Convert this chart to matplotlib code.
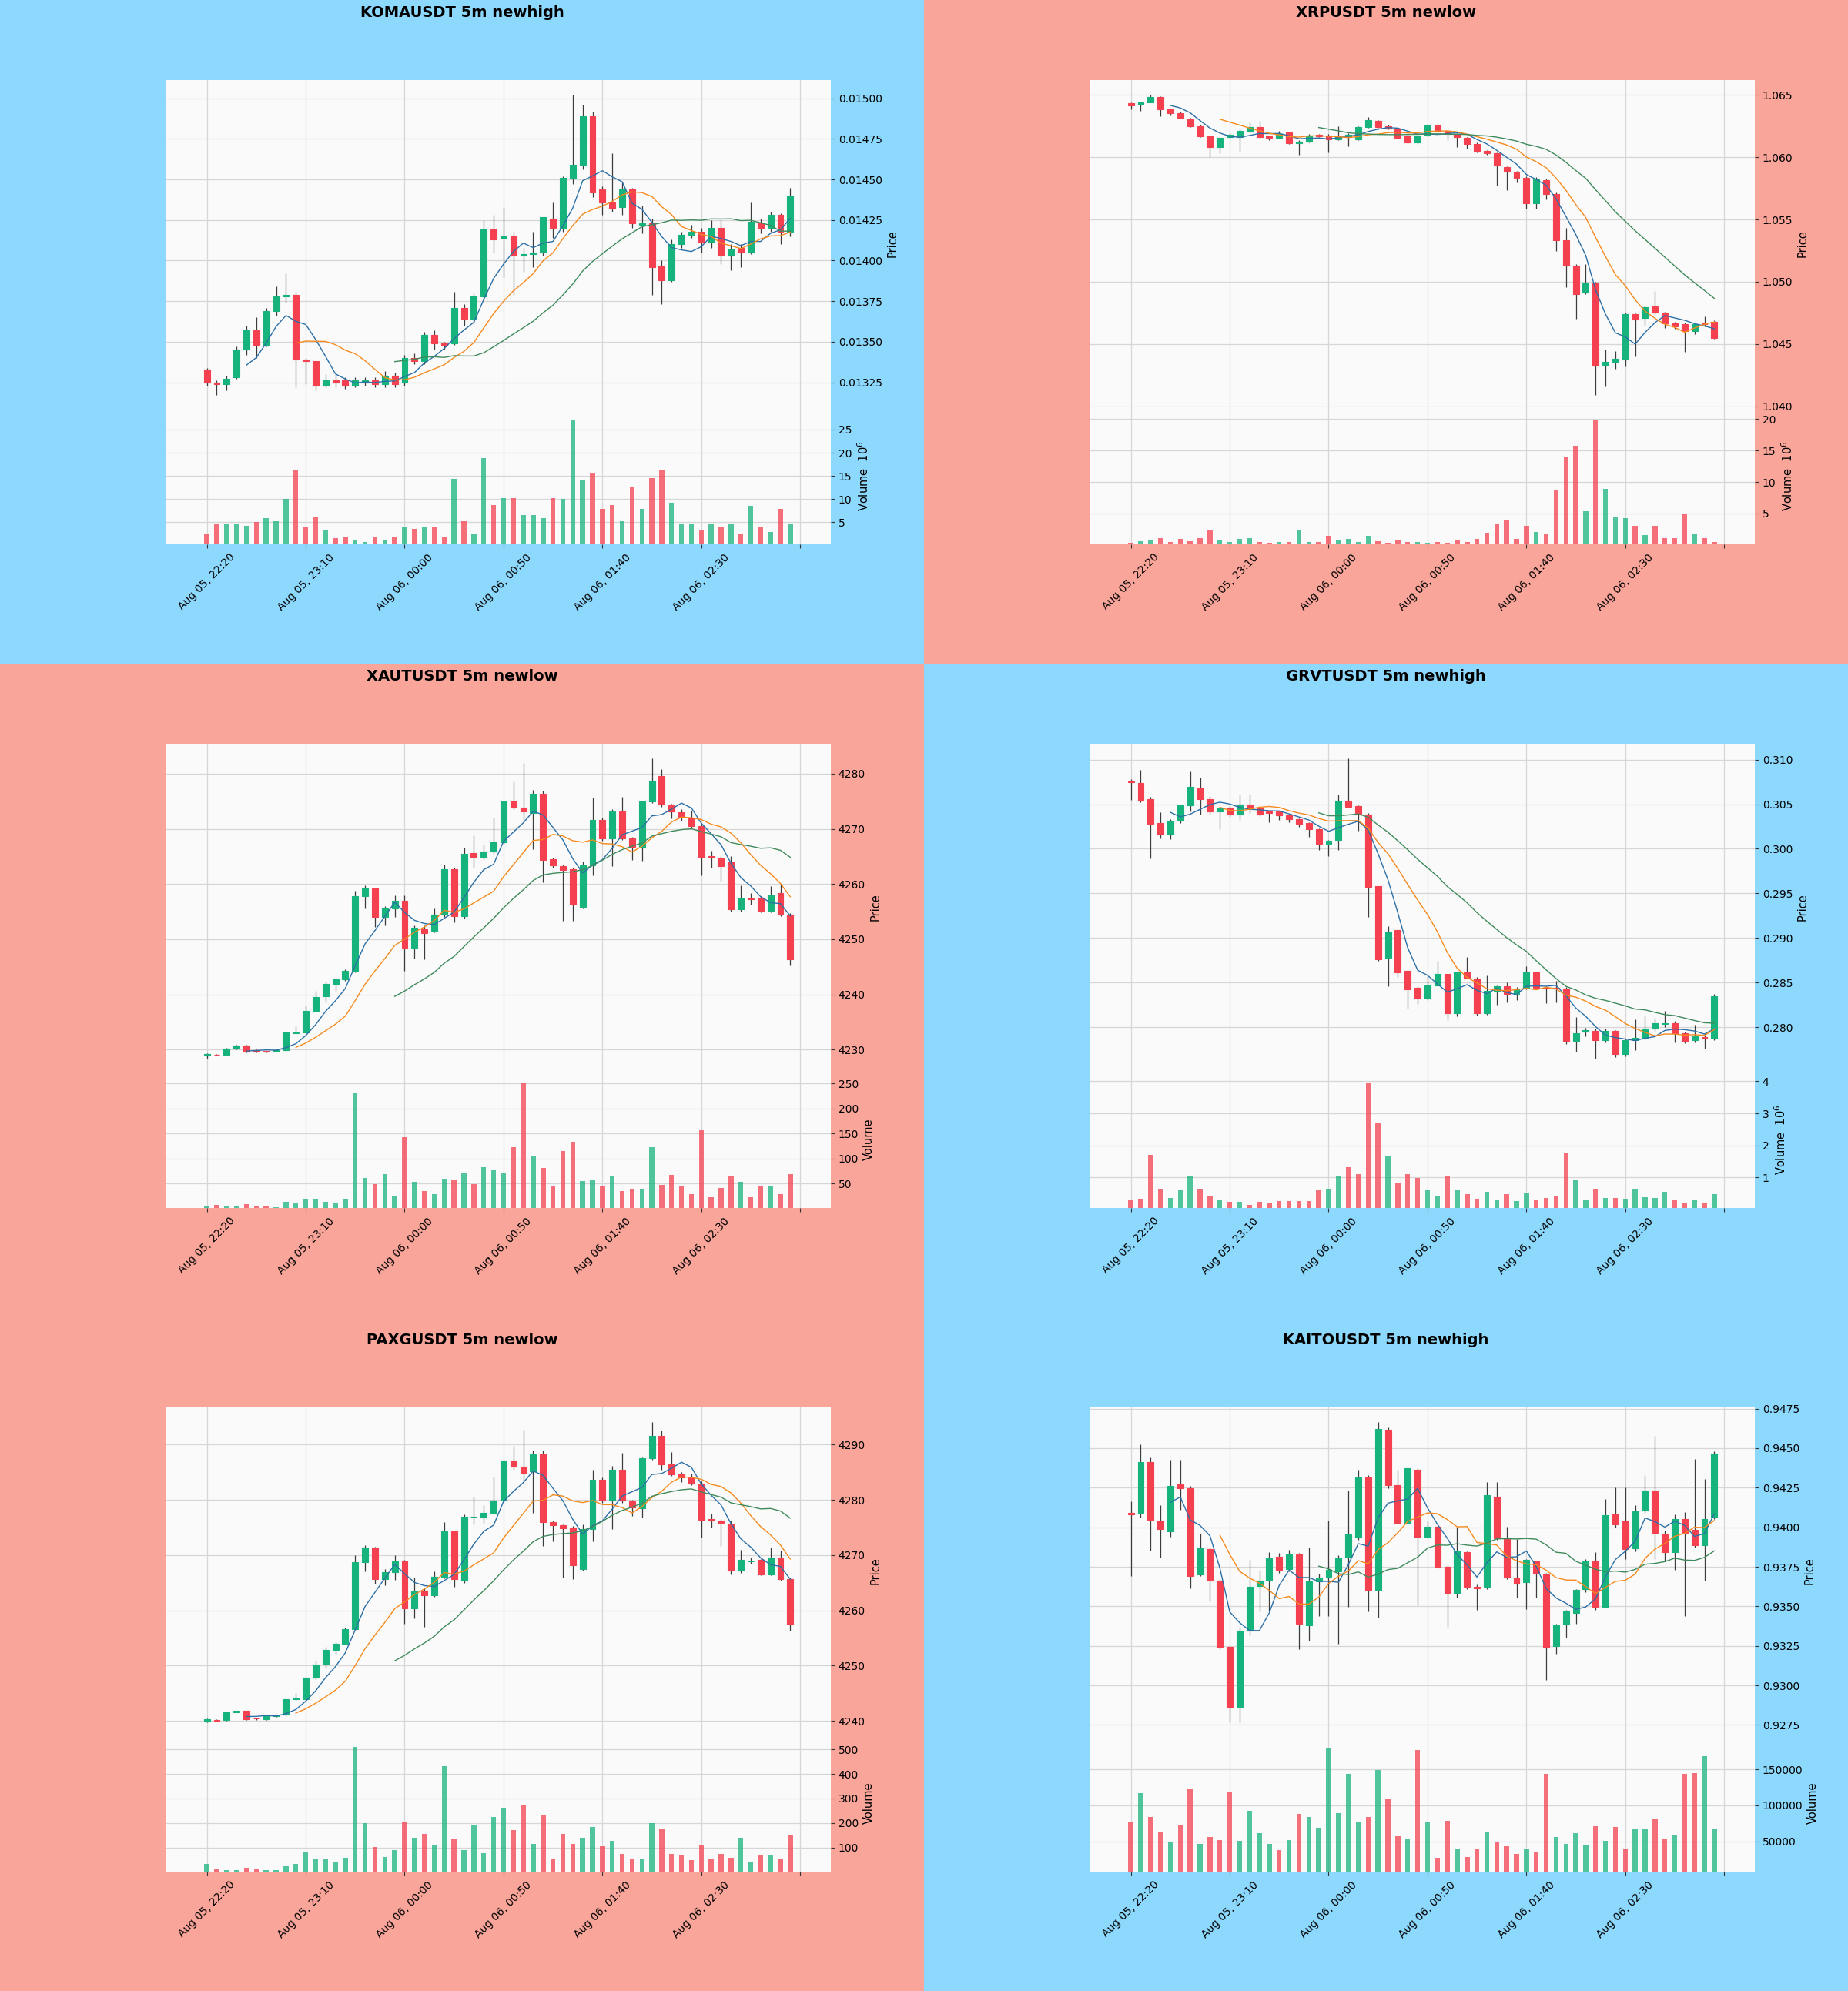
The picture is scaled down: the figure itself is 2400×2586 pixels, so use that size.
import numpy as np
import pandas as pd
import matplotlib
import matplotlib.pyplot as plt
from matplotlib.patches import Rectangle

matplotlib.use("Agg")

OUTPUT_FILE = "out.png"

# shared x axis: 60 five-minute candles
TICK_POS = [0, 10, 20, 30, 40, 50, 60]
TICK_LABELS = ["Aug 05, 22:20", "Aug 05, 23:10", "Aug 06, 00:00",
               "Aug 06, 00:50", "Aug 06, 01:40", "Aug 06, 02:30", ""]
MA_WINDOWS = [5, 10, 20]

# ---- KOMAUSDT ----
KOMA_OPEN = [0.01333, 0.01325, 0.01324, 0.01328, 0.01345, 0.01357, 0.01348, 0.01369, 0.01378, 0.01379,
             0.01339, 0.01338, 0.01323, 0.01326, 0.01326, 0.01323, 0.01325, 0.01326, 0.01324, 0.01329,
             0.01325, 0.01340, 0.01338, 0.01354, 0.01349, 0.01349, 0.01371, 0.01364, 0.01378, 0.01419,
             0.01414, 0.01415, 0.01403, 0.01404, 0.01405, 0.01426, 0.01420, 0.01451, 0.01459, 0.01489,
             0.01444, 0.01436, 0.01433, 0.01444, 0.01422, 0.01423, 0.01397, 0.01388, 0.01410, 0.01416,
             0.01418, 0.01411, 0.01420, 0.01403, 0.01408, 0.01405, 0.01423, 0.01420, 0.01428, 0.01418]
KOMA_HIGH = [0.01334, 0.01326, 0.01329, 0.01347, 0.01360, 0.01365, 0.01371, 0.01384, 0.01392, 0.01381,
             0.01340, 0.01338, 0.01330, 0.01330, 0.01328, 0.01328, 0.01328, 0.01328, 0.01332, 0.01331,
             0.01342, 0.01343, 0.01356, 0.01357, 0.01350, 0.01381, 0.01373, 0.01380, 0.01425, 0.01428,
             0.01433, 0.01418, 0.01408, 0.01418, 0.01427, 0.01436, 0.01452, 0.01502, 0.01496, 0.01492,
             0.01446, 0.01466, 0.01448, 0.01445, 0.01434, 0.01426, 0.01400, 0.01413, 0.01418, 0.01422,
             0.01420, 0.01425, 0.01425, 0.01410, 0.01410, 0.01436, 0.01426, 0.01430, 0.01429, 0.01445]
KOMA_LOW = [0.01323, 0.01317, 0.01320, 0.01327, 0.01342, 0.01340, 0.01347, 0.01366, 0.01374, 0.01322,
            0.01324, 0.01320, 0.01322, 0.01322, 0.01321, 0.01322, 0.01323, 0.01322, 0.01322, 0.01322,
            0.01323, 0.01336, 0.01336, 0.01345, 0.01345, 0.01348, 0.01360, 0.01362, 0.01376, 0.01405,
            0.01390, 0.01379, 0.01393, 0.01396, 0.01403, 0.01414, 0.01418, 0.01447, 0.01456, 0.01439,
            0.01428, 0.01430, 0.01428, 0.01420, 0.01417, 0.01379, 0.01373, 0.01387, 0.01408, 0.01414,
            0.01405, 0.01408, 0.01398, 0.01394, 0.01396, 0.01404, 0.01417, 0.01418, 0.01410, 0.01415]
KOMA_CLOSE = [0.01325, 0.01324, 0.01327, 0.01345, 0.01357, 0.01348, 0.01369, 0.01378, 0.01379, 0.01339,
              0.01338, 0.01323, 0.01326, 0.01325, 0.01323, 0.01326, 0.01326, 0.01324, 0.01329, 0.01324,
              0.01340, 0.01338, 0.01354, 0.01349, 0.01348, 0.01371, 0.01364, 0.01378, 0.01419, 0.01413,
              0.01415, 0.01403, 0.01404, 0.01405, 0.01427, 0.01420, 0.01451, 0.01459, 0.01489, 0.01442,
              0.01436, 0.01432, 0.01444, 0.01423, 0.01423, 0.01396, 0.01388, 0.01410, 0.01416, 0.01418,
              0.01411, 0.01420, 0.01403, 0.01407, 0.01405, 0.01424, 0.01420, 0.01428, 0.01418, 0.01440]
KOMA_VOLUME = [2.4, 4.8, 4.6, 4.6, 4.3, 5.0, 5.9, 5.3, 10.0, 16.2,
               4.1, 6.2, 3.4, 1.5, 1.8, 1.2, 0.8, 1.7, 1.2, 1.7,
               4.0, 3.6, 3.9, 4.1, 1.7, 14.3, 5.3, 2.6, 18.9, 8.7,
               10.2, 10.2, 6.6, 6.6, 5.9, 10.2, 10.0, 27.1, 14.0, 15.6,
               7.8, 8.7, 5.2, 12.7, 7.8, 14.5, 16.3, 9.2, 4.5, 4.8,
               3.2, 4.5, 4.1, 4.5, 2.4, 8.6, 4.1, 2.9, 7.9, 4.5]

# ---- XRPUSDT ----
XRP_OPEN = [1.06437, 1.06424, 1.06444, 1.06485, 1.06383, 1.06356, 1.06305, 1.06249, 1.06171, 1.06083,
            1.06164, 1.06164, 1.06209, 1.06242, 1.06169, 1.06159, 1.06200, 1.06115, 1.06127, 1.06180,
            1.06176, 1.06147, 1.06165, 1.06144, 1.06242, 1.06290, 1.06250, 1.06225, 1.06176, 1.06120,
            1.06176, 1.06256, 1.06210, 1.06188, 1.06159, 1.06110, 1.06054, 1.06030, 1.05920, 1.05884,
            1.05835, 1.05628, 1.05818, 1.05706, 1.05335, 1.05128, 1.04916, 1.04989, 1.04324, 1.04356,
            1.04375, 1.04738, 1.04707, 1.04804, 1.04750, 1.04665, 1.04658, 1.04604, 1.04670, 1.04680]
XRP_HIGH = [1.06444, 1.06450, 1.06500, 1.06490, 1.06390, 1.06370, 1.06320, 1.06260, 1.06175, 1.06165,
            1.06195, 1.06225, 1.06280, 1.06290, 1.06175, 1.06210, 1.06205, 1.06135, 1.06185, 1.06190,
            1.06185, 1.06250, 1.06195, 1.06250, 1.06322, 1.06300, 1.06260, 1.06235, 1.06185, 1.06180,
            1.06270, 1.06265, 1.06215, 1.06195, 1.06165, 1.06120, 1.06060, 1.06040, 1.05930, 1.05890,
            1.05845, 1.05840, 1.05830, 1.05720, 1.05433, 1.05140, 1.05140, 1.05000, 1.04458, 1.04446,
            1.04750, 1.04745, 1.04810, 1.04926, 1.04760, 1.04680, 1.04670, 1.04670, 1.04720, 1.04690]
XRP_LOW = [1.06388, 1.06371, 1.06440, 1.06329, 1.06336, 1.06310, 1.06245, 1.06160, 1.06005, 1.06030,
           1.06150, 1.06054, 1.06200, 1.06155, 1.06140, 1.06150, 1.06105, 1.06018, 1.06120, 1.06165,
           1.06037, 1.06140, 1.06090, 1.06135, 1.06235, 1.06235, 1.06225, 1.06150, 1.06115, 1.06110,
           1.06170, 1.06200, 1.06140, 1.06080, 1.06070, 1.06040, 1.06020, 1.05774, 1.05737, 1.05800,
           1.05590, 1.05590, 1.05660, 1.05250, 1.04958, 1.04702, 1.04900, 1.04088, 1.04161, 1.04300,
           1.04320, 1.04397, 1.04650, 1.04740, 1.04630, 1.04620, 1.04435, 1.04580, 1.04640, 1.04540]
XRP_CLOSE = [1.06417, 1.06444, 1.06485, 1.06383, 1.06356, 1.06315, 1.06249, 1.06171, 1.06083, 1.06159,
             1.06181, 1.06212, 1.06242, 1.06164, 1.06154, 1.06188, 1.06115, 1.06127, 1.06176, 1.06170,
             1.06147, 1.06169, 1.06180, 1.06242, 1.06298, 1.06242, 1.06232, 1.06159, 1.06120, 1.06176,
             1.06256, 1.06208, 1.06188, 1.06164, 1.06110, 1.06047, 1.06030, 1.05932, 1.05884, 1.05835,
             1.05628, 1.05828, 1.05706, 1.05335, 1.05128, 1.04901, 1.04989, 1.04324, 1.04356, 1.04380,
             1.04738, 1.04697, 1.04794, 1.04750, 1.04665, 1.04641, 1.04604, 1.04658, 1.04660, 1.04551]
XRP_VOLUME = [0.3, 0.6, 0.8, 1.1, 0.5, 0.9, 0.6, 1.1, 2.4, 0.8,
              0.5, 1.0, 1.1, 0.45, 0.3, 0.45, 0.45, 2.4, 0.45, 0.5,
              1.4, 0.8, 0.9, 0.5, 1.4, 0.6, 0.3, 0.8, 0.5, 0.5,
              0.3, 0.45, 0.3, 0.8, 0.5, 1.0, 1.9, 3.3, 3.9, 1.0,
              3.0, 2.0, 1.8, 8.7, 14.0, 15.8, 5.4, 19.9, 8.9, 4.5,
              4.3, 3.0, 1.5, 3.0, 1.1, 1.1, 4.9, 1.7, 1.1, 0.5]

# ---- XAUTUSDT ----
XAUT_OPEN = [4228.9, 4229.1, 4229.1, 4230.2, 4230.7, 4229.9, 4229.7, 4229.7, 4229.9, 4233.0,
             4233.1, 4237.0, 4239.7, 4241.9, 4242.7, 4244.2, 4257.8, 4259.2, 4254.0, 4255.5,
             4257.0, 4248.5, 4251.8, 4251.5, 4254.5, 4262.7, 4254.1, 4265.6, 4264.9, 4265.9,
             4267.6, 4274.9, 4273.8, 4272.9, 4276.3, 4264.5, 4263.3, 4262.7, 4255.9, 4263.4,
             4271.6, 4268.2, 4273.2, 4268.2, 4266.6, 4274.9, 4279.5, 4274.2, 4273.0, 4271.9,
             4270.5, 4265.0, 4264.7, 4264.0, 4255.4, 4257.4, 4257.5, 4255.1, 4258.3, 4254.5]
XAUT_HIGH = [4229.3, 4229.2, 4230.3, 4230.9, 4230.8, 4230.0, 4229.8, 4230.0, 4233.2, 4234.2,
             4238.0, 4240.6, 4242.3, 4243.0, 4244.6, 4258.8, 4259.8, 4259.3, 4256.0, 4257.9,
             4258.0, 4252.5, 4252.5, 4255.5, 4263.5, 4263.0, 4266.6, 4268.8, 4267.2, 4272.0,
             4275.0, 4278.6, 4281.9, 4277.0, 4276.9, 4264.8, 4263.5, 4263.0, 4264.1, 4275.6,
             4272.0, 4273.6, 4275.8, 4268.5, 4275.0, 4282.7, 4280.8, 4274.5, 4273.5, 4273.3,
             4271.0, 4266.0, 4265.0, 4265.1, 4259.8, 4258.3, 4257.8, 4259.6, 4260.0, 4254.7]
XAUT_LOW = [4228.3, 4228.9, 4229.0, 4230.1, 4229.5, 4229.5, 4229.5, 4229.6, 4229.8, 4232.9,
            4232.9, 4236.8, 4238.5, 4240.6, 4242.5, 4244.0, 4255.5, 4252.2, 4252.5, 4254.0,
            4244.3, 4246.5, 4246.4, 4251.2, 4254.0, 4253.1, 4253.8, 4262.9, 4264.5, 4265.5,
            4267.3, 4273.5, 4271.5, 4266.3, 4260.3, 4263.0, 4253.4, 4253.4, 4255.5, 4261.6,
            4267.8, 4263.2, 4268.0, 4264.3, 4264.2, 4274.7, 4274.0, 4271.9, 4271.5, 4270.2,
            4261.6, 4263.0, 4260.6, 4255.0, 4255.0, 4256.3, 4254.8, 4254.8, 4254.2, 4245.3]
XAUT_CLOSE = [4229.2, 4229.0, 4230.2, 4230.7, 4229.6, 4229.6, 4229.6, 4229.9, 4233.1, 4233.1,
              4237.0, 4239.5, 4241.9, 4242.7, 4244.2, 4257.8, 4259.2, 4254.0, 4255.5, 4257.0,
              4248.5, 4252.1, 4251.1, 4254.5, 4262.7, 4254.1, 4265.4, 4264.9, 4265.9, 4267.6,
              4274.9, 4273.8, 4273.2, 4276.4, 4264.4, 4263.4, 4262.6, 4256.2, 4263.4, 4271.6,
              4268.2, 4273.2, 4268.2, 4266.7, 4274.9, 4278.7, 4274.4, 4273.2, 4272.1, 4270.5,
              4264.9, 4264.8, 4263.3, 4255.4, 4257.4, 4257.3, 4255.1, 4257.9, 4254.5, 4246.3]
XAUT_VOLUME = [4, 7.5, 5.6, 5.6, 8.8, 5.6, 4.4, 2.5, 13.8, 10.6,
               18.8, 18.8, 12.5, 11.9, 18.8, 231, 60.6, 48, 68.8, 26,
               143, 52.5, 34, 29, 58.8, 56, 72, 48, 82.5, 78,
               72, 123, 250, 105.6, 80.6, 46, 115, 134, 54, 57.5,
               46, 65.6, 34, 38.8, 38.8, 122, 47, 67, 44, 28,
               156, 23, 40.6, 65.6, 52.5, 23, 44, 45, 28, 68]

# ---- GRVTUSDT ----
GRVT_OPEN = [0.30755, 0.30738, 0.30557, 0.30291, 0.30158, 0.30318, 0.30489, 0.30676, 0.30557, 0.30420,
             0.30465, 0.30387, 0.30489, 0.30465, 0.30420, 0.30420, 0.30376, 0.30329, 0.30291, 0.30223,
             0.30056, 0.30100, 0.30540, 0.30479, 0.30387, 0.29579, 0.28775, 0.29092, 0.28631, 0.28444,
             0.28318, 0.28468, 0.28597, 0.28154, 0.28614, 0.28546, 0.28154, 0.28410, 0.28454, 0.28376,
             0.28434, 0.28614, 0.28444, 0.28440, 0.28434, 0.27848, 0.27950, 0.27957, 0.27854, 0.27957,
             0.27701, 0.27850, 0.27881, 0.27981, 0.28035, 0.28045, 0.27933, 0.27854, 0.27889, 0.27875]
GRVT_HIGH = [0.30778, 0.30888, 0.30580, 0.30410, 0.30330, 0.30500, 0.30864, 0.30795, 0.30590, 0.30470,
             0.30480, 0.30608, 0.30608, 0.30470, 0.30430, 0.30430, 0.30390, 0.30340, 0.30300, 0.30230,
             0.30100, 0.30608, 0.31010, 0.30490, 0.30400, 0.29580, 0.29130, 0.29100, 0.28640, 0.28460,
             0.28570, 0.28740, 0.28600, 0.28620, 0.28785, 0.28560, 0.28580, 0.28470, 0.28500, 0.28450,
             0.28680, 0.28620, 0.28460, 0.28520, 0.28450, 0.28110, 0.27990, 0.27980, 0.27980, 0.27970,
             0.27870, 0.28090, 0.28120, 0.28100, 0.28180, 0.28070, 0.27950, 0.28030, 0.27930, 0.28376]
GRVT_LOW = [0.30547, 0.30520, 0.29892, 0.30120, 0.30104, 0.30290, 0.30420, 0.30380, 0.30380, 0.30216,
            0.30360, 0.30320, 0.30400, 0.30370, 0.30300, 0.30320, 0.30300, 0.30250, 0.30130, 0.29990,
            0.29920, 0.29990, 0.30470, 0.30200, 0.29238, 0.28740, 0.28461, 0.28560, 0.28210, 0.28257,
            0.28300, 0.28460, 0.28079, 0.28120, 0.28600, 0.28130, 0.28140, 0.28250, 0.28280, 0.28300,
            0.28420, 0.28420, 0.28270, 0.28280, 0.27810, 0.27728, 0.27900, 0.27643, 0.27830, 0.27660,
            0.27670, 0.27740, 0.27860, 0.27960, 0.28000, 0.27830, 0.27820, 0.27830, 0.27760, 0.27850]
GRVT_CLOSE = [0.30745, 0.30540, 0.30284, 0.30158, 0.30318, 0.30489, 0.30693, 0.30557, 0.30420, 0.30455,
              0.30387, 0.30500, 0.30455, 0.30387, 0.30404, 0.30376, 0.30335, 0.30284, 0.30216, 0.30056,
              0.30090, 0.30540, 0.30472, 0.30387, 0.29569, 0.28761, 0.29075, 0.28614, 0.28427, 0.28318,
              0.28468, 0.28597, 0.28154, 0.28614, 0.28546, 0.28154, 0.28410, 0.28454, 0.28376, 0.28434,
              0.28614, 0.28434, 0.28434, 0.28430, 0.27841, 0.27933, 0.27967, 0.27854, 0.27957, 0.27701,
              0.27854, 0.27881, 0.27984, 0.28045, 0.28048, 0.27933, 0.27848, 0.27909, 0.27875, 0.28342]
GRVT_VOLUME = [0.28, 0.33, 1.70, 0.65, 0.36, 0.63, 1.04, 0.65, 0.40, 0.31,
               0.23, 0.23, 0.14, 0.23, 0.22, 0.26, 0.26, 0.26, 0.26, 0.60,
               0.65, 1.04, 1.31, 1.09, 3.93, 2.71, 1.67, 0.84, 1.11, 0.97,
               0.60, 0.43, 1.02, 0.63, 0.48, 0.33, 0.55, 0.28, 0.48, 0.25,
               0.51, 0.31, 0.35, 0.43, 1.77, 0.90, 0.28, 0.65, 0.36, 0.36,
               0.33, 0.65, 0.38, 0.35, 0.55, 0.28, 0.22, 0.31, 0.22, 0.48]

# ---- PAXGUSDT ----
PAXG_OPEN = [4239.9, 4240.2, 4240.2, 4241.6, 4241.8, 4240.5, 4240.3, 4240.9, 4241.1, 4244.0,
             4244.0, 4247.9, 4250.4, 4252.9, 4254.0, 4256.6, 4268.7, 4271.4, 4265.6, 4266.9,
             4268.9, 4260.3, 4263.6, 4262.8, 4266.1, 4274.3, 4265.4, 4276.9, 4276.8, 4277.6,
             4279.9, 4287.1, 4286.0, 4285.1, 4288.2, 4275.9, 4275.4, 4275.0, 4267.5, 4274.7,
             4283.6, 4279.8, 4285.5, 4279.7, 4278.5, 4287.5, 4291.5, 4286.4, 4284.6, 4284.0,
             4282.9, 4276.5, 4276.2, 4275.7, 4267.2, 4268.8, 4269.1, 4266.5, 4269.6, 4265.7]
PAXG_HIGH = [4240.4, 4240.3, 4241.6, 4241.9, 4241.9, 4240.6, 4241.0, 4241.1, 4244.1, 4245.1,
             4248.0, 4250.9, 4253.4, 4254.3, 4256.9, 4270.0, 4271.8, 4271.5, 4267.5, 4270.0,
             4269.2, 4266.0, 4264.0, 4267.0, 4276.0, 4274.5, 4277.3, 4280.6, 4279.0, 4284.2,
             4287.3, 4289.7, 4292.7, 4288.9, 4288.9, 4276.2, 4275.6, 4275.2, 4275.5, 4285.5,
             4284.0, 4286.2, 4288.5, 4280.0, 4287.7, 4294.0, 4292.5, 4288.6, 4285.0, 4284.8,
             4283.3, 4277.5, 4276.5, 4276.2, 4271.0, 4269.6, 4269.3, 4271.4, 4270.8, 4265.9]
PAXG_LOW = [4239.7, 4239.9, 4240.0, 4241.5, 4240.2, 4240.2, 4240.2, 4240.8, 4240.9, 4243.8,
            4243.8, 4247.5, 4249.5, 4252.0, 4253.8, 4256.4, 4267.0, 4264.8, 4264.5, 4265.5,
            4257.6, 4258.6, 4257.0, 4262.5, 4265.8, 4264.3, 4265.0, 4275.5, 4275.8, 4277.3,
            4279.6, 4285.5, 4283.5, 4277.7, 4271.7, 4272.5, 4266.0, 4265.6, 4267.2, 4272.5,
            4279.5, 4274.7, 4279.5, 4277.1, 4276.8, 4287.3, 4285.5, 4284.3, 4283.2, 4282.6,
            4273.2, 4275.0, 4271.6, 4266.5, 4266.8, 4268.5, 4266.3, 4266.3, 4265.4, 4256.3]
PAXG_CLOSE = [4240.3, 4240.1, 4241.5, 4241.8, 4240.3, 4240.4, 4240.9, 4241.0, 4244.0, 4244.1,
              4247.9, 4250.2, 4252.9, 4254.0, 4256.6, 4268.7, 4271.4, 4265.6, 4266.9, 4268.9,
              4260.3, 4263.5, 4262.8, 4266.1, 4274.3, 4265.7, 4276.9, 4277.0, 4277.6, 4279.9,
              4287.1, 4286.0, 4284.9, 4288.2, 4275.9, 4275.4, 4274.8, 4268.1, 4274.7, 4283.6,
              4279.8, 4285.5, 4279.8, 4278.6, 4287.5, 4291.5, 4286.4, 4284.6, 4284.0, 4282.9,
              4276.4, 4276.2, 4275.8, 4267.2, 4269.1, 4268.9, 4266.5, 4269.6, 4265.7, 4257.5]
PAXG_VOLUME = [33, 14, 8, 8, 18, 14, 8, 8, 29, 33,
               80, 55, 52, 39, 58, 509, 200, 103, 61, 90,
               202, 141, 157, 109, 433, 135, 90, 192, 77, 224,
               262, 170, 274, 116, 234, 52, 156, 116, 141, 185,
               107, 128, 74, 52, 52, 200, 176, 74, 67, 50,
               109, 55, 74, 58, 141, 39, 69, 71, 52, 154]

# ---- KAITOUSDT ----
KAITO_OPEN = [0.94091, 0.94091, 0.94413, 0.94041, 0.93975, 0.94272, 0.94249, 0.93700, 0.93860, 0.93661,
              0.93243, 0.92862, 0.93347, 0.93627, 0.93661, 0.93815, 0.93738, 0.93829, 0.93382, 0.93658,
              0.93681, 0.93719, 0.93810, 0.93935, 0.94316, 0.93604, 0.94615, 0.94264, 0.94027, 0.94365,
              0.93941, 0.94002, 0.93752, 0.93584, 0.93844, 0.93623, 0.93623, 0.94191, 0.93925, 0.93681,
              0.93652, 0.93783, 0.93700, 0.93247, 0.93386, 0.93459, 0.93610, 0.93787, 0.93498, 0.94082,
              0.94041, 0.93868, 0.94104, 0.94234, 0.93960, 0.93844, 0.94053, 0.93983, 0.93887, 0.94060]
KAITO_HIGH = [0.94162, 0.94523, 0.94440, 0.94140, 0.94425, 0.94425, 0.94260, 0.93960, 0.93870, 0.93670,
              0.93250, 0.93372, 0.93795, 0.93725, 0.93842, 0.93840, 0.93855, 0.93840, 0.93872, 0.93705,
              0.94040, 0.93825, 0.94233, 0.94365, 0.94330, 0.94663, 0.94630, 0.94365, 0.94380, 0.94375,
              0.94036, 0.94010, 0.93760, 0.94002, 0.93850, 0.93640, 0.94287, 0.94287, 0.94002, 0.93925,
              0.93800, 0.93790, 0.93710, 0.93390, 0.93480, 0.93610, 0.93800, 0.93845, 0.94180, 0.94252,
              0.94252, 0.94140, 0.94330, 0.94577, 0.93980, 0.94080, 0.94096, 0.94432, 0.94307, 0.94480]
KAITO_LOW = [0.93694, 0.94060, 0.93854, 0.93810, 0.93940, 0.94110, 0.93613, 0.93690, 0.93530, 0.93230,
             0.92765, 0.92765, 0.93315, 0.93470, 0.93470, 0.93710, 0.93720, 0.93227, 0.93281, 0.93440,
             0.93440, 0.93265, 0.93497, 0.93920, 0.93469, 0.93430, 0.94245, 0.94020, 0.94020, 0.93507,
             0.93930, 0.93740, 0.93372, 0.93555, 0.93610, 0.93477, 0.93610, 0.93920, 0.93670, 0.93555,
             0.93484, 0.93555, 0.93035, 0.93200, 0.93300, 0.93392, 0.93590, 0.93480, 0.93490, 0.94000,
             0.93800, 0.93850, 0.94090, 0.93800, 0.93790, 0.93730, 0.93440, 0.93870, 0.93661, 0.94050]
KAITO_CLOSE = [0.94080, 0.94413, 0.94047, 0.93989, 0.94259, 0.94249, 0.93690, 0.93870, 0.93661, 0.93243,
               0.92862, 0.93347, 0.93623, 0.93661, 0.93802, 0.93729, 0.93829, 0.93392, 0.93658, 0.93681,
               0.93729, 0.93802, 0.93954, 0.94316, 0.93604, 0.94621, 0.94268, 0.94027, 0.94374, 0.93941,
               0.94002, 0.93752, 0.93584, 0.93854, 0.93623, 0.93613, 0.94201, 0.93931, 0.93681, 0.93642,
               0.93796, 0.93710, 0.93237, 0.93382, 0.93475, 0.93604, 0.93783, 0.93498, 0.94076, 0.94020,
               0.93864, 0.94099, 0.94234, 0.93964, 0.93844, 0.94053, 0.93964, 0.93887, 0.94053, 0.94465]
KAITO_VOLUME = [77200, 116700, 84200, 64000, 50000, 73200, 123200, 46500, 55700, 52200,
                119300, 50900, 93000, 61000, 46500, 38200, 52200, 88600, 84200, 68900,
                180300, 89500, 144300, 77200, 84200, 148700, 109200, 57500, 53500, 177200,
                77600, 26800, 78500, 40400, 28100, 40400, 64100, 50000, 43400, 32500,
                40400, 34600, 143900, 56600, 47000, 61000, 45600, 71500, 51300, 70200,
                40400, 66700, 66700, 80700, 53500, 58800, 143900, 145200, 168000, 66700]

# colours
BG_HIGH = "#8dd8fd"
BG_LOW = "#f9a59a"
UP = "#17b37c"
DOWN = "#f4404f"
WICK = "#3c3c3c"
MA_COLORS = ["#2b6fa6", "#f5891c", "#3f8a5c"]

W, H = 2400, 2586
CELL_W, CELL_H = 1200, 862


def draw_cell(fig, row, col, title, bg, o, h, l, c, v, vol_label):
    o, h, l, c, v = (np.asarray(a, dtype=float) for a in (o, h, l, c, v))
    x0, y0 = col * CELL_W, row * CELL_H

    fig.add_artist(Rectangle((x0 / W, 1 - (y0 + CELL_H) / H), CELL_W / W, CELL_H / H,
                             transform=fig.transFigure, facecolor=bg, edgecolor="none", zorder=0))
    fig.text((x0 + CELL_W / 2) / W, 1 - (y0 + 17) / H, title, ha="center", va="center",
             fontsize=14, fontweight="bold")

    left = (x0 + 216) / W
    width = 863 / W
    ax = fig.add_axes([left, 1 - (y0 + 529) / H, width, 425 / H])
    vax = fig.add_axes([left, 1 - (y0 + 707) / H, width, 178 / H], sharex=ax)

    x = np.arange(len(c))
    colors = np.where(c >= o, UP, DOWN)

    # candles
    ax.vlines(x, l, h, color=WICK, linewidth=0.9, zorder=2)
    ax.bar(x, np.abs(c - o), width=0.62, bottom=np.minimum(o, c), color=colors,
           edgecolor=colors, linewidth=0.8, zorder=3)

    # moving averages
    closes = pd.Series(c)
    for n, col_ma in zip(MA_WINDOWS, MA_COLORS):
        ax.plot(x, closes.rolling(n).mean(), color=col_ma, linewidth=1.0, zorder=4)

    lo, hi = l.min(), h.max()
    rng = hi - lo
    ax.set_ylim(lo - 0.04 * rng, hi + 0.05 * rng)

    # volume
    vax.bar(x, v, width=0.5, color=colors, alpha=0.75, zorder=3)
    vax.set_ylim(0.3 * v.min(), 1.1 * v.max())

    for a in (ax, vax):
        a.set_facecolor("#fafafa")
        for s in a.spines.values():
            s.set_visible(False)
        a.grid(True, color="#d6d6d6", linewidth=0.9)
        a.set_axisbelow(True)
        a.yaxis.tick_right()
        a.yaxis.set_label_position("right")
        a.tick_params(labelsize=10, length=3.5, color="#333333")

    ax.set_xlim(-4.1, 63.1)
    ax.set_xticks(TICK_POS)
    ax.tick_params(axis="x", bottom=False, labelbottom=False)
    vax.set_xticks(TICK_POS)
    vax.set_xticklabels(TICK_LABELS, rotation=45, ha="center")

    ax.set_ylabel("Price", fontsize=10.5)
    vax.set_ylabel(vol_label, fontsize=10.5)


fig = plt.figure(figsize=(W / 100, H / 100), dpi=100)

VOL_M = "Volume  $10^{6}$"
draw_cell(fig, 0, 0, "KOMAUSDT 5m newhigh", BG_HIGH,
          KOMA_OPEN, KOMA_HIGH, KOMA_LOW, KOMA_CLOSE, KOMA_VOLUME, VOL_M)
draw_cell(fig, 0, 1, "XRPUSDT 5m newlow", BG_LOW,
          XRP_OPEN, XRP_HIGH, XRP_LOW, XRP_CLOSE, XRP_VOLUME, VOL_M)
draw_cell(fig, 1, 0, "XAUTUSDT 5m newlow", BG_LOW,
          XAUT_OPEN, XAUT_HIGH, XAUT_LOW, XAUT_CLOSE, XAUT_VOLUME, "Volume")
draw_cell(fig, 1, 1, "GRVTUSDT 5m newhigh", BG_HIGH,
          GRVT_OPEN, GRVT_HIGH, GRVT_LOW, GRVT_CLOSE, GRVT_VOLUME, VOL_M)
draw_cell(fig, 2, 0, "PAXGUSDT 5m newlow", BG_LOW,
          PAXG_OPEN, PAXG_HIGH, PAXG_LOW, PAXG_CLOSE, PAXG_VOLUME, "Volume")
draw_cell(fig, 2, 1, "KAITOUSDT 5m newhigh", BG_HIGH,
          KAITO_OPEN, KAITO_HIGH, KAITO_LOW, KAITO_CLOSE, KAITO_VOLUME, "Volume")

fig.savefig(OUTPUT_FILE, dpi=100)
plt.close(fig)
